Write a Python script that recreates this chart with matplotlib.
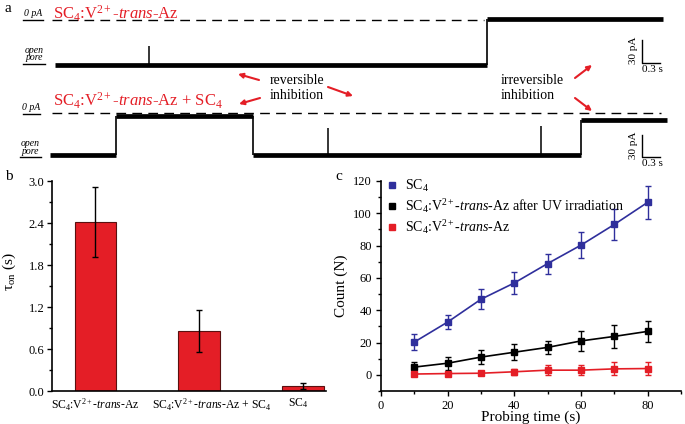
import numpy as np
import matplotlib
matplotlib.use("Agg")
import matplotlib.pyplot as plt
from matplotlib.ticker import MultipleLocator

plt.rcParams['font.family'] = ['Liberation Serif', 'DejaVu Serif']
plt.rcParams['mathtext.fontset'] = 'custom'
plt.rcParams['mathtext.rm'] = 'Liberation Serif'
plt.rcParams['mathtext.it'] = 'Liberation Serif:italic'
plt.rcParams['mathtext.bf'] = 'Liberation Serif:bold'

RED = '#e41e26'
BLUE = '#2f2f9c'

# ---- panel a: single-channel traces (time in s, current in pA) ----
trace1_steps = [0.05, 7.25, 10.18]          # segment boundaries
trace1_levels = [-60, 2]                    # open pore, blocked
trace1_spikes = [(1.62, -35)]
trace2_steps = [-0.03, 1.07, 3.35, 8.82, 10.25]
trace2_levels = [-56, -4, -56, -9]
trace2_spikes = [(4.60, -20), (8.15, -17)]

# ---- panel b: dwell time ----
b_labels = [r'SC$_4$:V$^{2+}$-$\it{trans}$-Az',
            r'SC$_4$:V$^{2+}$-$\it{trans}$-Az + SC$_4$',
            r'SC$_4$']
b_tau = [2.41, 0.86, 0.07]
b_err = [0.50, 0.30, 0.04]

# ---- panel c: counts vs probing time ----
probe_t = [10, 20, 30, 40, 50, 60, 70, 80]
count_sc4 = [20.3, 32.7, 46.8, 56.9, 68.9, 80.3, 93.1, 106.8]
err_sc4 = [4.9, 4.1, 6.2, 6.9, 6.2, 8.1, 9.5, 10.3]
count_uv = [4.8, 7.2, 11.0, 14.0, 17.0, 21.0, 23.8, 26.9]
err_uv = [2.9, 4.1, 4.1, 5.0, 4.0, 6.2, 7.0, 6.4]
count_trans = [0.5, 0.8, 1.0, 1.9, 2.9, 2.9, 3.7, 3.9]
err_trans = [0.5, 0.5, 0.5, 1.7, 3.0, 3.0, 4.0, 4.0]

W, H = 685, 424
fig = plt.figure(figsize=(W / 100, H / 100), dpi=100)


def px_axes(x0, y0, x1, y1):
    return fig.add_axes([x0 / W, 1 - y1 / H, (x1 - x0) / W, (y1 - y0) / H])


def draw_trace(ax, steps, levels, spikes):
    for i, lev in enumerate(levels):
        ax.hlines(lev, steps[i], steps[i + 1], color='k', lw=3.4)
        if i > 0:
            ax.vlines(steps[i], levels[i - 1], lev, color='k', lw=1.2)
    for t, peak in spikes:
        base = levels[np.searchsorted(steps, t) - 1]
        ax.vlines(t, base, peak, color='k', lw=1.1)


def scale_bar(ax, x, y):
    ax.plot([x, x, x + 0.3], [y + 30, y, y], color='k', lw=1)


px_per_s, px_per_pA = 60, 0.75
t_lim = ((40 - 52) / px_per_s, (672 - 52) / px_per_s)

ta1 = px_axes(40, 0, 672, 85)
ta1.set_xlim(*t_lim)
ta1.set_ylim(-(85 - 20) / px_per_pA, 20 / px_per_pA)
ta1.axis('off')
ta1.plot([0, 7.2], [0, 0], color='k', lw=1, ls=(0, (7, 4.5)))
draw_trace(ta1, trace1_steps, trace1_levels, trace1_spikes)
scale_bar(ta1, 9.83, -57.3)

ta2 = px_axes(40, 95, 672, 170)
ta2.set_xlim(*t_lim)
ta2.set_ylim(-(170 - 113) / px_per_pA, (113 - 95) / px_per_pA)
ta2.axis('off')
ta2.plot([0, 10.15], [0, 0], color='k', lw=1, ls=(0, (7, 4.5)))
draw_trace(ta2, trace2_steps, trace2_levels, trace2_spikes)
scale_bar(ta2, 9.83, -58.7)

# ---- panel b ----
axb = px_axes(52, 181, 326, 391)
xb = np.arange(len(b_tau))
axb.bar(xb, b_tau, width=0.4, color=RED, edgecolor='#5a1010', lw=0.8,
        yerr=b_err, error_kw=dict(ecolor='k', elinewidth=1, capsize=2.5, capthick=1))
axb.set_xlim(-0.417, 2.22)
axb.set_ylim(0, 3.0)
axb.yaxis.set_minor_locator(MultipleLocator(0.3))
axb.set_yticks([0, 0.6, 1.2, 1.8, 2.4, 3.0])
axb.set_yticklabels(['0.0', '0.6', '1.2', '1.8', '2.4', '3.0'])
# category labels sit slightly off the bar centres in the original (ticks hidden)
label_shift = [0, 0.125, -0.05]
axb.set_xticks(xb + np.array(label_shift))
axb.set_xticklabels(b_labels, fontsize=8.4)
axb.tick_params(axis='x', length=0, pad=4)
axb.tick_params(axis='y', labelsize=9, direction='out', length=3.5, width=1, pad=2)
axb.tick_params(axis='y', which='minor', length=2.2, width=1)
for s in ['top', 'right']:
    axb.spines[s].set_visible(False)
for s in ['left', 'bottom']:
    axb.spines[s].set_linewidth(1.2)
axb.set_ylabel('τ$_{\\mathrm{on}}$ (s)', fontsize=11)
axb.yaxis.set_label_coords(-0.125, 0.57)

# ---- panel c ----
axc = px_axes(381, 181, 681, 391)
series = [
    (count_sc4, err_sc4, BLUE, r'SC$_4$'),
    (count_uv, err_uv, 'k', r'SC$_4$:V$^{2+}$-$\it{trans}$-Az after UV irradiation'),
    (count_trans, err_trans, RED, r'SC$_4$:V$^{2+}$-$\it{trans}$-Az'),
]
handles = []
for vals, errs, col, lab in series:
    axc.plot(probe_t, vals, color=col, lw=1.2)
    axc.errorbar(probe_t, vals, yerr=errs, fmt='s', color=col, ms=4.5,
                 elinewidth=1, capsize=2.5, capthick=1)
    h, = axc.plot([], [], 's', color=col, ms=4.5, label=lab)
    handles.append(h)
axc.set_xlim(0, 90)
axc.set_ylim(-10, 120)
axc.set_xticks([0, 20, 40, 60, 80])
axc.xaxis.set_minor_locator(MultipleLocator(10))
axc.set_yticks([0, 20, 40, 60, 80, 100, 120])
axc.yaxis.set_minor_locator(MultipleLocator(10))
axc.tick_params(labelsize=9, direction='out', length=3.5, width=1, pad=3)
axc.tick_params(which='minor', direction='out', length=2.2, width=1)
for s in ['top', 'right']:
    axc.spines[s].set_visible(False)
for s in ['left', 'bottom']:
    axc.spines[s].set_linewidth(1.2)
axc.set_xlabel('Probing time (s)', fontsize=11)
axc.xaxis.set_label_coords(0.5, -0.092)
axc.set_ylabel('Count (N)', fontsize=11)
axc.yaxis.set_label_coords(-0.11, 0.5)
axc.legend(handles=handles, loc='upper left', bbox_to_anchor=(0.015, 1.03),
           frameon=False, fontsize=10, handlelength=0.6, handletextpad=0.6,
           labelspacing=0.22, borderaxespad=0, borderpad=0.2)

# ---- overlay for annotations (pixel coordinates) ----
ov = fig.add_axes([0, 0, 1, 1], zorder=-1)
ov.set_xlim(0, W)
ov.set_ylim(H, 0)
ov.axis('off')

ov.text(5, 9, 'a', fontsize=11, va='center', ha='left')
ov.text(5, 177, 'b', fontsize=11, va='center', ha='left')
ov.text(335, 177, 'c', fontsize=11, va='center', ha='left')

ov.text(53, 14, r'SC$_4$:V$^{2+}$-$\it{trans}$-Az', color=RED, fontsize=12, va='center')
ov.text(53, 101, r'SC$_4$:V$^{2+}$-$\it{trans}$-Az + SC$_4$', color=RED, fontsize=12, va='center')

# level labels
for (x0, x1, y), txt in [((23, 43, 20), '0 pA'), ((23, 40, 114), '0 pA')]:
    ov.text((x0 + x1) / 2, y - 2, txt, fontsize=7, style='italic', ha='center', va='bottom')
    ov.plot([x0, x1], [y, y], color='k', lw=1)
for (x0, x1, y) in [(23, 45, 64), (20, 41, 157)]:
    ov.text((x0 + x1) / 2, y - 1.5, 'open\npore', fontsize=7, style='italic', ha='center',
            va='bottom', linespacing=0.85)
    ov.plot([x0, x1], [y, y], color='k', lw=1)

ov.text(270, 88, 'reversible\ninhibition', fontsize=10, va='center', ha='left', linespacing=1.15)
ov.text(501, 88, 'irreversible\ninhibition', fontsize=10, va='center', ha='left', linespacing=1.15)
arrows = [((259, 80), (238, 74)), ((260, 98), (239, 104)), ((328, 87), (353, 96)),
          ((575, 78), (592, 65)), ((575, 98), (592, 111))]
for tail, head in arrows:
    ov.annotate('', xy=head, xytext=tail,
                arrowprops=dict(arrowstyle='-|>', color=RED, lw=1.5, mutation_scale=7,
                                shrinkA=0, shrinkB=0))

# scale bar labels
for yb in (50, 145):
    ov.text(634, yb, '30 pA', rotation=90, fontsize=8, ha='center', va='center')
for yb in (69, 163):
    ov.text(652, yb, '0.3 s', fontsize=8, ha='center', va='center')

fig.savefig('out.png', dpi=100)
